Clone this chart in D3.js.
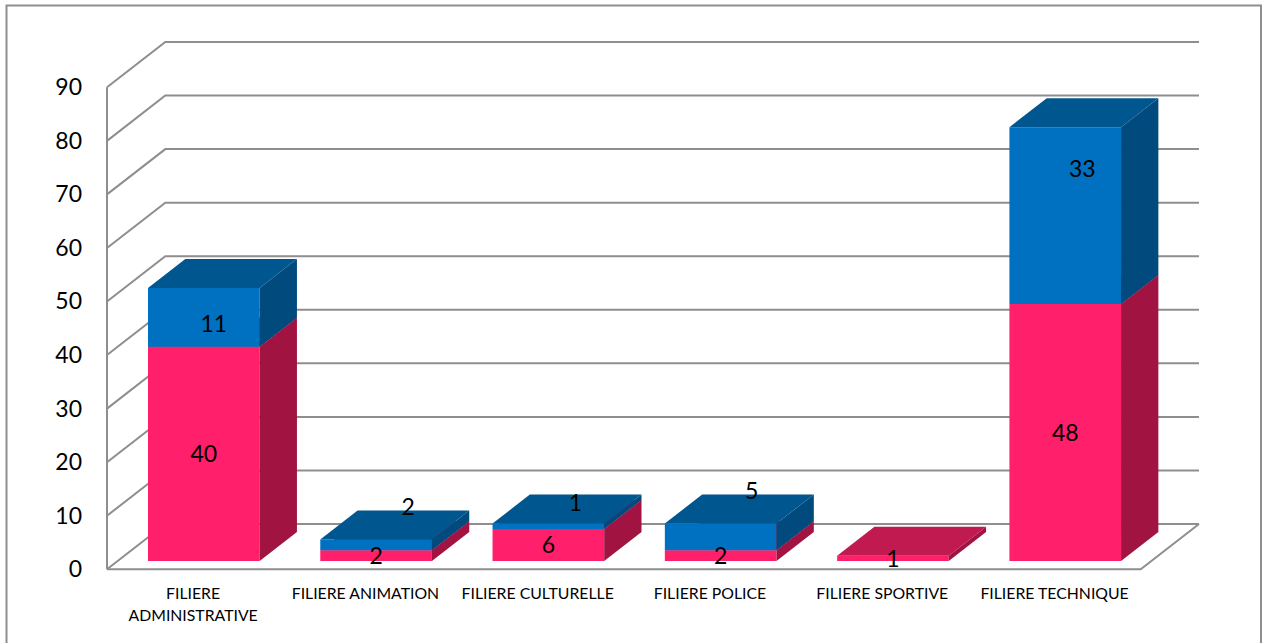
<!DOCTYPE html>
<html>
<head>
<meta charset="utf-8">
<script src="https://cdn.jsdelivr.net/npm/d3@7"></script>
<style>
  html, body { margin: 0; padding: 0; background: #fff; }
  svg { display: block; }
</style>
</head>
<body>
<svg id="chart" width="1268" height="643"></svg>
<script>
// ---- data ----
const categories = [
  "FILIERE ADMINISTRATIVE",
  "FILIERE ANIMATION",
  "FILIERE CULTURELLE",
  "FILIERE POLICE",
  "FILIERE SPORTIVE",
  "FILIERE TECHNIQUE"
];
const seriesPink = [40, 2, 6, 2, 1, 48];
const seriesBlue = [11, 2, 1, 5, 0, 33];
const yTickValues = [0, 10, 20, 30, 40, 50, 60, 70, 80, 90];

// ---- layout ----
const plot = { left: 107, right: 1140.7, bottom: 569.3, top: 87.3 };
const DEPTH = { dx: 58.3, dy: -45.3 };       // wall depth projection
const barZ = [0.183, 0.823];                  // bar front / back depth fractions
// label nudges for the upper series (Excel-style 3D label placement)
const blueLabelShift = [[10, 6.5], [32, -38], [27, -23], [31, -46.5], [0, 0], [17, -47]];

const palette = {
  pink: { front: "#FF1F6B", side: "#A11442", top: "#C11A50" },
  blue: { front: "#0070C0", side: "#004A7E", top: "#00578F" }
};
const gridColor = "#8E8E8E";
const FONT = "Lato, 'Open Sans', sans-serif";

const svg = d3.select("#chart");

// outer chart frame
svg.append("rect")
  .attr("x", 6.5).attr("y", 5.5)
  .attr("width", 1254.5).attr("height", 700)
  .attr("fill", "#fff")
  .attr("stroke", gridColor).attr("stroke-width", 2);

const y = d3.scaleLinear().domain([0, 90]).range([plot.bottom, plot.top]);
const x = d3.scaleBand()
  .domain(categories)
  .range([plot.left, plot.right])
  .paddingInner(0.352)
  .paddingOuter(0.176);

// project a point (front-plane x, value, depth fraction) to screen
const P = (px, v, z) => [px + z * DEPTH.dx, y(v) + z * DEPTH.dy];
const line = d3.line();

// ---- walls & gridlines ----
const grid = svg.append("g")
  .attr("fill", "none")
  .attr("stroke", gridColor)
  .attr("stroke-width", 2);

yTickValues.forEach(t => {
  grid.append("path").attr("d", line([P(plot.left, t, 0), P(plot.left, t, 1), P(plot.right, t, 1)]));
});
// floor outline
grid.append("path").attr("d", line([P(plot.left, 0, 0), P(plot.right, 0, 0), P(plot.right, 0, 1)]));
// vertical axis line
grid.append("path").attr("d", line([P(plot.left, 0, 0), P(plot.left, 90, 0)]));

// ---- y axis labels ----
const yAxis = d3.axisLeft(y).tickValues(yTickValues).tickSize(0).tickPadding(25);
const ax = svg.append("g").attr("transform", `translate(${plot.left},0)`).call(yAxis);
ax.select(".domain").remove();
ax.selectAll("text")
  .attr("font-family", FONT)
  .attr("font-size", 23)
  .attr("fill", "#000");

// ---- stacked 3D bars ----
const bw = x.bandwidth();
const bars = svg.append("g");
const labels = [];

categories.forEach((cat, i) => {
  const x0 = x(cat), x1 = x0 + bw;
  const stack = [
    { v: seriesPink[i], c: palette.pink, name: "pink" },
    { v: seriesBlue[i], c: palette.blue, name: "blue" }
  ];
  let base = 0;
  stack.forEach(seg => {
    if (!seg.v) return;
    const v0 = base, v1 = base + seg.v;
    const [z0, z1] = barZ;
    const g = bars.append("g");
    // front face
    g.append("path").attr("fill", seg.c.front)
      .attr("d", line([P(x0, v0, z0), P(x1, v0, z0), P(x1, v1, z0), P(x0, v1, z0)]) + "Z");
    // right side face
    g.append("path").attr("fill", seg.c.side)
      .attr("d", line([P(x1, v0, z0), P(x1, v0, z1), P(x1, v1, z1), P(x1, v1, z0)]) + "Z");
    // top face
    g.append("path").attr("fill", seg.c.top)
      .attr("d", line([P(x0, v1, z0), P(x1, v1, z0), P(x1, v1, z1), P(x0, v1, z1)]) + "Z");

    const [cx, cy] = P(x0 + bw / 2, (v0 + v1) / 2, z0);
    const shift = seg.name === "blue" ? blueLabelShift[i] : [0, 0];
    labels.push({ text: seg.v, x: cx + shift[0], y: cy + shift[1] });
    base = v1;
  });
});

// ---- data labels ----
svg.append("g").selectAll("text")
  .data(labels)
  .join("text")
  .attr("x", d => d.x)
  .attr("y", d => d.y)
  .attr("dy", "0.36em")
  .attr("text-anchor", "middle")
  .attr("font-family", FONT)
  .attr("font-size", 23)
  .attr("fill", "#000")
  .text(d => d.text);

// ---- category labels ----
const catG = svg.append("g")
  .attr("font-family", FONT)
  .attr("font-size", 15.8)
  .attr("fill", "#000")
  .attr("text-anchor", "middle");

categories.forEach(cat => {
  const cx = x(cat) + bw / 2;
  const t = catG.append("text").attr("x", cx).attr("y", 598.5).text(cat);
  if (t.node().getComputedTextLength() > x.step()) {
    const words = cat.split(" ");
    t.text(null);
    t.append("tspan").attr("x", cx).attr("dy", 0).text(words[0]);
    t.append("tspan").attr("x", cx).attr("dy", 22.5).text(words.slice(1).join(" "));
  }
});
</script>
</body>
</html>
